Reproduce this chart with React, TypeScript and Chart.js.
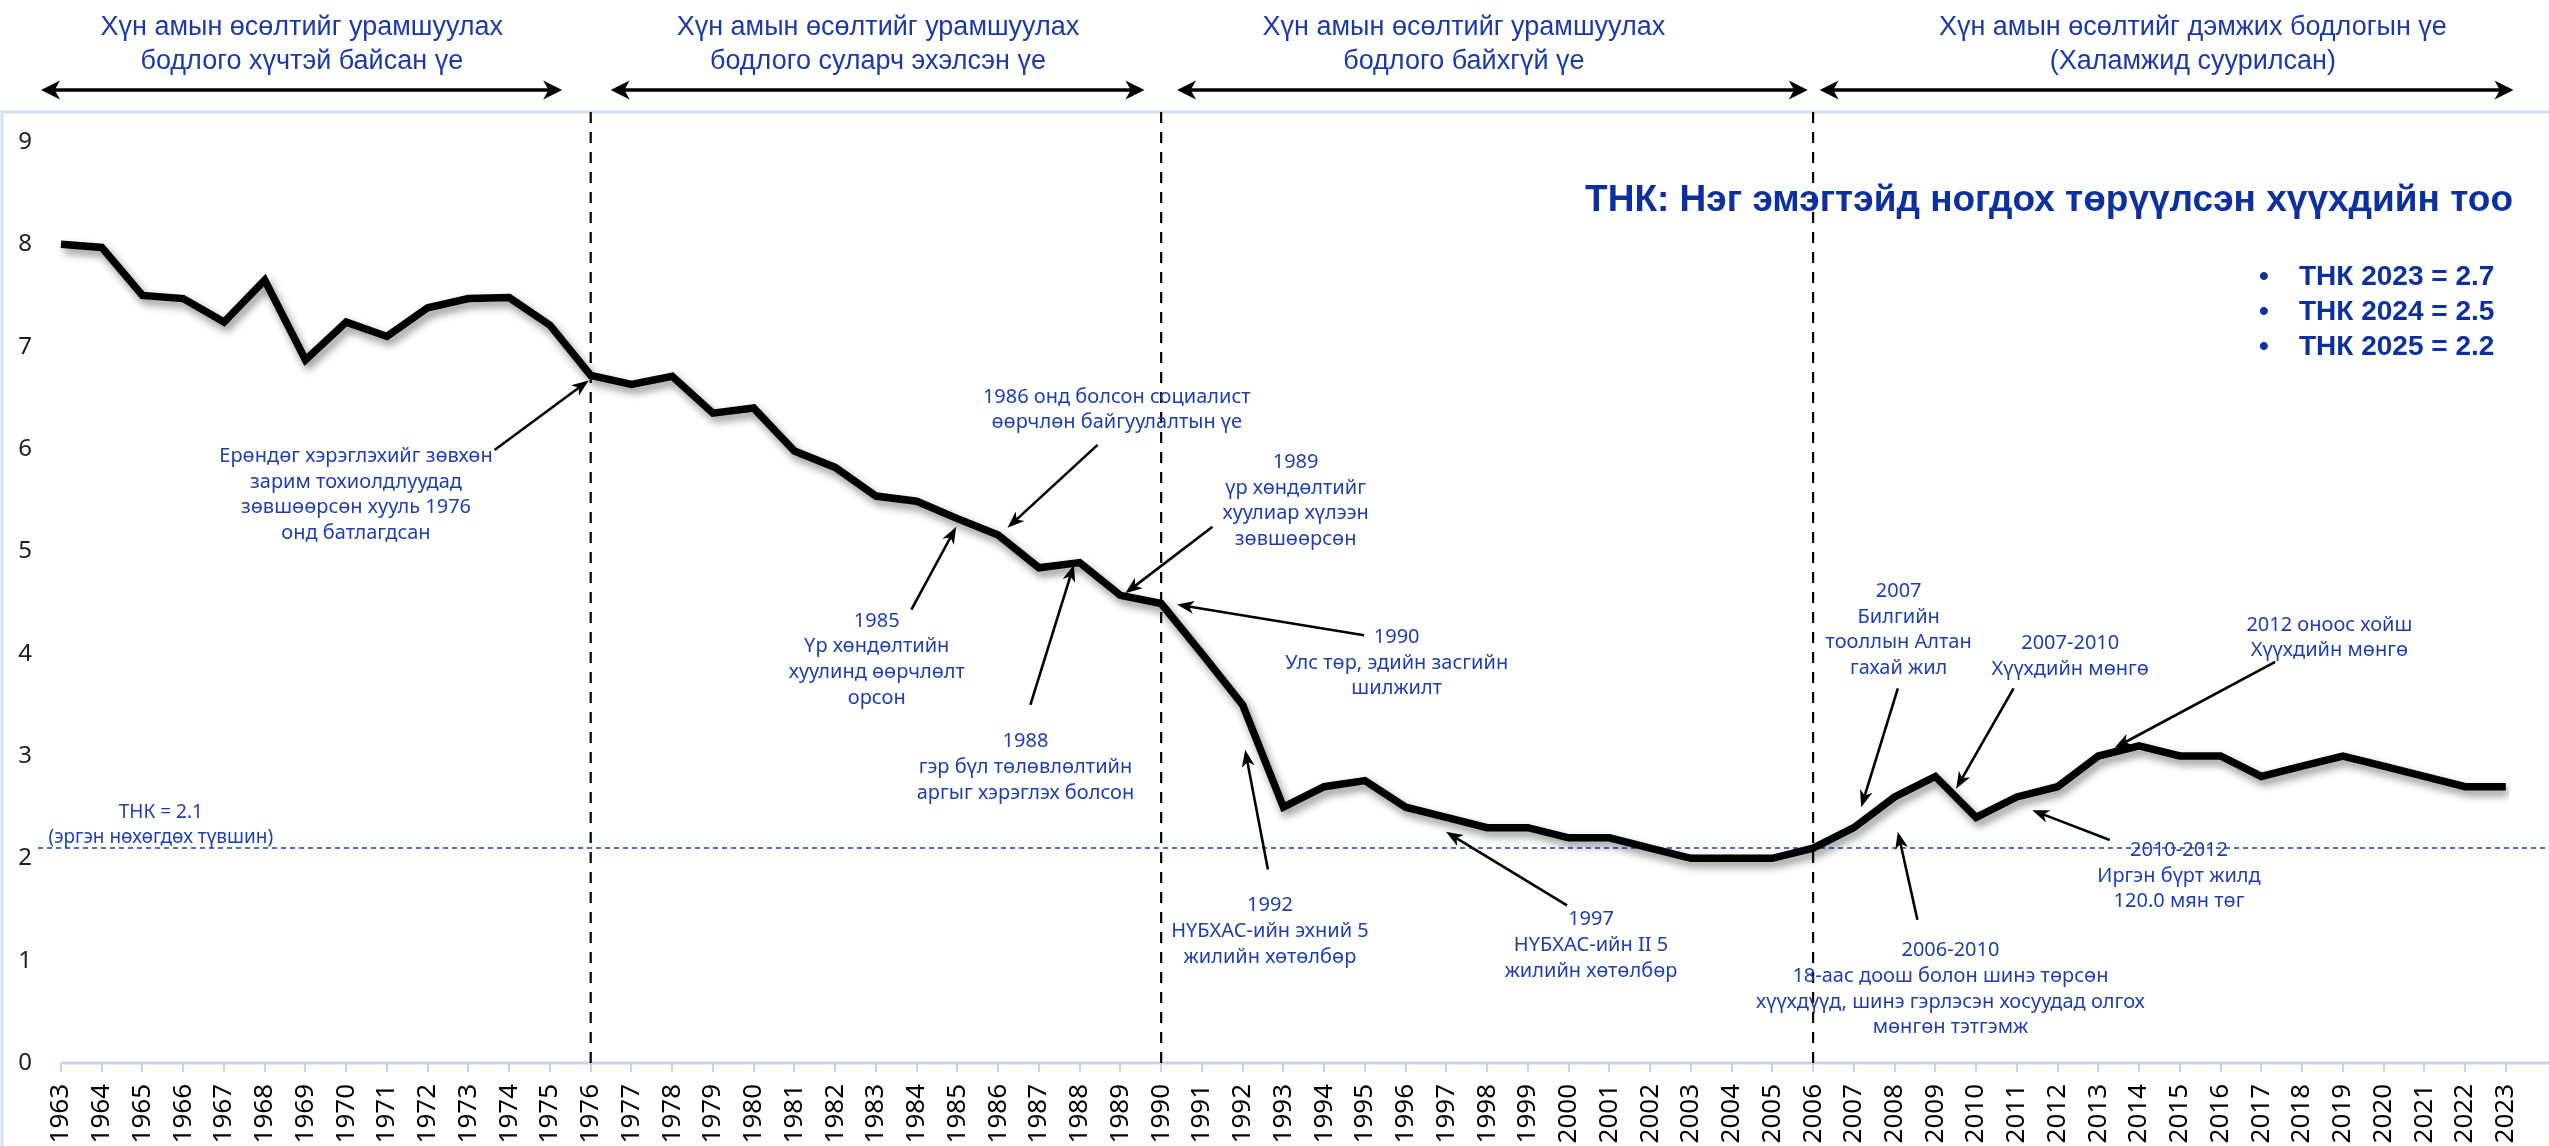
import React, { useEffect, useRef } from 'react';
import { Chart, registerables } from 'chart.js';

Chart.register(...registerables);

// ---------- DATA ----------
const years = [
  '1963', '1964', '1965', '1966', '1967', '1968', '1969', '1970', '1971', '1972',
  '1973', '1974', '1975', '1976', '1977', '1978', '1979', '1980', '1981', '1982',
  '1983', '1984', '1985', '1986', '1987', '1988', '1989', '1990', '1991', '1992',
  '1993', '1994', '1995', '1996', '1997', '1998', '1999', '2000', '2001', '2002',
  '2003', '2004', '2005', '2006', '2007', '2008', '2009', '2010', '2011', '2012',
  '2013', '2014', '2015', '2016', '2017', '2018', '2019', '2020', '2021', '2022', '2023',
];

const tfr = [
  8.0, 7.97, 7.5, 7.47, 7.24, 7.65, 6.87, 7.24, 7.1, 7.38,
  7.47, 7.48, 7.21, 6.72, 6.63, 6.71, 6.35, 6.4, 5.98, 5.82,
  5.54, 5.49, 5.32, 5.16, 4.84, 4.89, 4.57, 4.49, 4.0, 3.5,
  2.5, 2.7, 2.76, 2.5, 2.4, 2.3, 2.3, 2.2, 2.2, 2.1,
  2.0, 2.0, 2.0, 2.1, 2.3, 2.6, 2.8, 2.4, 2.6, 2.7,
  3.0, 3.1, 3.0, 3.0, 2.8, 2.9, 3.0, 2.9, 2.8, 2.7, 2.7,
];

const yMin = 0;
const yMax = 9;
const periodBreakYears = ['1976', '1990', '2006'];
const replacementLevel = 2.1;
const replacementLabel = ['ТНК = 2.1', '(эргэн нөхөгдөх түвшин)'];

const periodLabels = [
  ['Хүн амын өсөлтийг урамшуулах', 'бодлого хүчтэй байсан үе'],
  ['Хүн амын өсөлтийг урамшуулах', 'бодлого суларч эхэлсэн үе'],
  ['Хүн амын өсөлтийг урамшуулах', 'бодлого байхгүй үе'],
  ['Хүн амын өсөлтийг дэмжих бодлогын үе', '(Халамжид суурилсан)'],
];
// period spans in (fractional) years: arrow from, arrow to, text centre
const periodSpans = [
  [1962.51, 1975.3, 1968.91],
  [1976.49, 1989.59, 1983.05],
  [1990.39, 2005.87, 1997.43],
  [2006.16, 2023.19, 2015.32],
];

const chartTitle = 'ТНК: Нэг эмэгтэйд ногдох төрүүлсэн хүүхдийн тоо';
const forecastLines = ['ТНК 2023 = 2.7', 'ТНК 2024 = 2.5', 'ТНК 2025 = 2.2'];

const annotationTexts = [
  ['Ерөндөг хэрэглэхийг зөвхөн', 'зарим тохиолдлуудад', 'зөвшөөрсөн хууль 1976', 'онд батлагдсан'],
  ['1985', 'Үр хөндөлтийн', 'хуулинд өөрчлөлт', 'орсон'],
  ['1986 онд болсон социалист', 'өөрчлөн байгуулалтын үе'],
  ['1988', 'гэр бүл төлөвлөлтийн', 'аргыг хэрэглэх болсон'],
  ['1989', 'үр хөндөлтийг', 'хуулиар хүлээн', 'зөвшөөрсөн'],
  ['1990', 'Улс төр, эдийн засгийн', 'шилжилт'],
  ['1992', 'НҮБХАС-ийн эхний 5', 'жилийн хөтөлбөр'],
  ['1997', 'НҮБХАС-ийн II 5', 'жилийн хөтөлбөр'],
  ['2007', 'Билгийн', 'тооллын Алтан', 'гахай жил'],
  ['2007-2010', 'Хүүхдийн мөнгө'],
  ['2012 оноос хойш', 'Хүүхдийн мөнгө'],
  ['2010-2012', 'Иргэн бүрт жилд', '120.0 мян төг'],
  ['2006-2010', '18-аас доош болон шинэ төрсөн', 'хүүхдүүд, шинэ гэрлэсэн хосуудад олгох', 'мөнгөн тэтгэмж'],
];
// annotation anchors in data coordinates: [text centre year, first line value, arrow from (year, value), arrow to (year, value)]
const annotationAnchors = [
  [1970.24, 5.93, 1973.64, 5.99, 1975.95, 6.67],
  [1983.02, 4.32, 1983.87, 4.43, 1984.97, 5.24],
  [1988.91, 6.51, 1988.44, 6.04, 1986.23, 5.23],
  [1986.67, 3.14, 1986.79, 3.5, 1987.86, 4.87],
  [1993.3, 5.87, 1991.26, 5.24, 1989.12, 4.59],
  [1995.78, 4.16, 1994.98, 4.18, 1990.39, 4.48],
  [1992.67, 1.54, 1992.62, 1.89, 1992.06, 3.06],
  [2000.55, 1.4, 1999.96, 1.54, 1996.99, 2.26],
  [2008.1, 4.61, 2008.08, 3.66, 2007.18, 2.5],
  [2012.31, 4.1, 2010.92, 3.66, 2009.51, 2.68],
  [2018.67, 4.28, 2017.34, 3.92, 2013.4, 3.08],
  [2014.98, 2.08, 2013.28, 2.18, 2011.38, 2.47],
  [2009.37, 1.1, 2008.56, 1.4, 2008.08, 2.26],
];
const replacementLabelAnchor = [1965.45, 2.45];

// ---------- STYLE ----------
const BLUE_TEXT = '#1d3fae';
const BLUE_HEAD = '#1a3aa8';
const BLUE_TITLE = '#0d30a0';
const FRAME = '#d3def0';
const AXIS = '#c6d4ea';

function drawArrowHead(ctx: CanvasRenderingContext2D, x1: number, y1: number, x2: number, y2: number, len: number, half: number) {
  const a = Math.atan2(y2 - y1, x2 - x1);
  const c = Math.cos(a), s = Math.sin(a);
  ctx.beginPath();
  ctx.moveTo(x2, y2);
  ctx.lineTo(x2 - len * c - half * s, y2 - len * s + half * c);
  ctx.lineTo(x2 - len * 0.72 * c, y2 - len * 0.72 * s);
  ctx.lineTo(x2 - len * c + half * s, y2 - len * s - half * c);
  ctx.closePath();
  ctx.fill();
}

function drawArrow(ctx: CanvasRenderingContext2D, x1: number, y1: number, x2: number, y2: number, lw: number, len: number, half: number, both = false) {
  const a = Math.atan2(y2 - y1, x2 - x1);
  const c = Math.cos(a), s = Math.sin(a);
  ctx.lineWidth = lw;
  ctx.beginPath();
  const sx = both ? x1 + len * 0.6 * c : x1;
  const sy = both ? y1 + len * 0.6 * s : y1;
  ctx.moveTo(sx, sy);
  ctx.lineTo(x2 - len * 0.6 * c, y2 - len * 0.6 * s);
  ctx.stroke();
  drawArrowHead(ctx, x1, y1, x2, y2, len, half);
  if (both) drawArrowHead(ctx, x2, y2, x1, y1, len, half);
}

function drawLines(ctx: CanvasRenderingContext2D, lines: string[], cx: number, cy: number, lh: number, font: string, color: string, sx = 1) {
  ctx.save();
  ctx.font = font;
  ctx.fillStyle = color;
  ctx.textAlign = 'center';
  ctx.textBaseline = 'middle';
  lines.forEach((t, i) => {
    ctx.save();
    ctx.translate(cx, cy + i * lh);
    ctx.scale(sx, 1);
    ctx.fillText(t, 0, 0);
    ctx.restore();
  });
  ctx.restore();
}

const decorPlugin = {
  id: 'decor',
  beforeDatasetsDraw(chart: any) {
    const { ctx, chartArea, scales } = chart;
    const xs = scales.x, ys = scales.y;
    const W = chart.width, H = chart.height;
    const frameTop = 112;
    ctx.save();
    // frame
    ctx.strokeStyle = FRAME;
    ctx.lineWidth = 3;
    ctx.beginPath();
    ctx.moveTo(2, H);
    ctx.lineTo(2, frameTop);
    ctx.lineTo(W, frameTop);
    ctx.stroke();
    // x axis line
    ctx.strokeStyle = AXIS;
    ctx.lineWidth = 3;
    ctx.beginPath();
    ctx.moveTo(chartArea.left, chartArea.bottom);
    ctx.lineTo(W, chartArea.bottom);
    ctx.stroke();
    // replacement level line
    const yr = ys.getPixelForValue(replacementLevel);
    ctx.strokeStyle = '#4a74c9';
    ctx.lineWidth = 2;
    ctx.setLineDash([5, 4]);
    ctx.beginPath();
    ctx.moveTo(38, yr);
    ctx.lineTo(W, yr);
    ctx.stroke();
    // period breaks
    ctx.strokeStyle = '#000';
    ctx.lineWidth = 2.2;
    ctx.setLineDash([11, 9]);
    periodBreakYears.forEach((b) => {
      const px = xs.getPixelForValue(years.indexOf(b));
      ctx.beginPath();
      ctx.moveTo(px, frameTop);
      ctx.lineTo(px, chartArea.bottom);
      ctx.stroke();
    });
    ctx.restore();

    // header
    ctx.save();
    ctx.fillStyle = '#000';
    ctx.strokeStyle = '#000';
    periodSpans.forEach((sp, i) => {
      const xa = xs.getPixelForValue(sp[0] - 1963);
      const xb = xs.getPixelForValue(sp[1] - 1963);
      const xt = xs.getPixelForValue(sp[2] - 1963);
      drawArrow(ctx, xa, 90, xb, 90, 3.5, 19, 9.5, true);
      drawLines(ctx, periodLabels[i], xt, 28, 34, '27px "Liberation Sans", Arial, sans-serif', BLUE_HEAD, 1.0);
    });
    ctx.restore();

    // title + forecast bullets
    ctx.save();
    ctx.font = 'bold 37px "Liberation Sans", Arial, sans-serif';
    ctx.fillStyle = BLUE_TITLE;
    ctx.textBaseline = 'middle';
    ctx.textAlign = 'right';
    ctx.fillText(chartTitle, 2513, 201, 935);
    ctx.font = 'bold 28px "Liberation Sans", Arial, sans-serif';
    ctx.textAlign = 'left';
    forecastLines.forEach((t, i) => {
      const yy = 277 + i * 35;
      ctx.fillText('•', 2259, yy);
      ctx.fillText(t, 2299, yy);
    });
    ctx.restore();

    // line shadow
    ctx.save();
    ctx.shadowColor = 'rgba(0,0,0,0.45)';
    ctx.shadowBlur = 8;
    ctx.shadowOffsetX = 3;
    ctx.shadowOffsetY = 5;
  },
  afterDatasetsDraw(chart: any) {
    const { ctx, scales } = chart;
    ctx.restore();
    const xs = scales.x, ys = scales.y;
    const X = (yr: number) => xs.getPixelForValue(yr - 1963);
    const Y = (v: number) => ys.getPixelForValue(v);
    ctx.save();
    annotationAnchors.forEach((a, i) => {
      drawLines(ctx, annotationTexts[i], X(a[0]), Y(a[1]), 25.7, '20px "Noto Sans", sans-serif', BLUE_TEXT, 1);
      ctx.strokeStyle = '#000';
      ctx.fillStyle = '#000';
      drawArrow(ctx, X(a[2]), Y(a[3]), X(a[4]), Y(a[5]), 2.6, 17, 6.5);
    });
    drawLines(ctx, replacementLabel, X(replacementLabelAnchor[0]), Y(replacementLabelAnchor[1]), 25, '19px "Noto Sans", sans-serif', BLUE_TEXT, 1);
    ctx.restore();
  },
};

export default function App() {
  const ref = useRef<HTMLCanvasElement | null>(null);
  useEffect(() => {
    if (!ref.current) return;
    const chart = new Chart(ref.current, {
      type: 'line',
      data: {
        labels: years,
        datasets: [
          {
            label: 'ТНК',
            data: tfr,
            borderColor: '#000',
            borderWidth: 7.5,
            pointRadius: 0,
            tension: 0,
            fill: false,
            borderJoinStyle: 'miter',
          },
        ],
      },
      options: {
        animation: false,
        responsive: false,
        devicePixelRatio: 1,
        layout: { padding: { top: 142, right: 19, left: 0, bottom: 0 } },
        plugins: { legend: { display: false }, tooltip: { enabled: false }, title: { display: false } },
        scales: {
          x: {
            offset: false,
            grid: { drawOnChartArea: false, drawTicks: true, tickLength: 9, color: AXIS, lineWidth: 2 },
            border: { display: false },
            ticks: {
              autoSkip: false,
              maxRotation: 90,
              minRotation: 90,
              padding: 12,
              color: '#000',
              font: { family: '"Noto Sans", sans-serif', size: 26 },
            },
            afterFit: (s: any) => {
              s.height = 83;
            },
          },
          y: {
            min: yMin,
            max: yMax,
            grid: { display: false, drawTicks: false },
            border: { display: false },
            ticks: {
              stepSize: 1,
              padding: 29,
              color: '#1e1e1e',
              font: { family: '"Noto Sans", sans-serif', size: 24 },
            },
            afterFit: (s: any) => {
              s.width = 61;
            },
          },
        },
      },
      plugins: [decorPlugin],
    });
    return () => chart.destroy();
  }, []);
  return (
    <div style={{ position: 'fixed', left: 0, top: 0, width: 2549, height: 1146, background: '#fff' }}>
      <canvas ref={ref} width={2549} height={1146} />
    </div>
  );
}
